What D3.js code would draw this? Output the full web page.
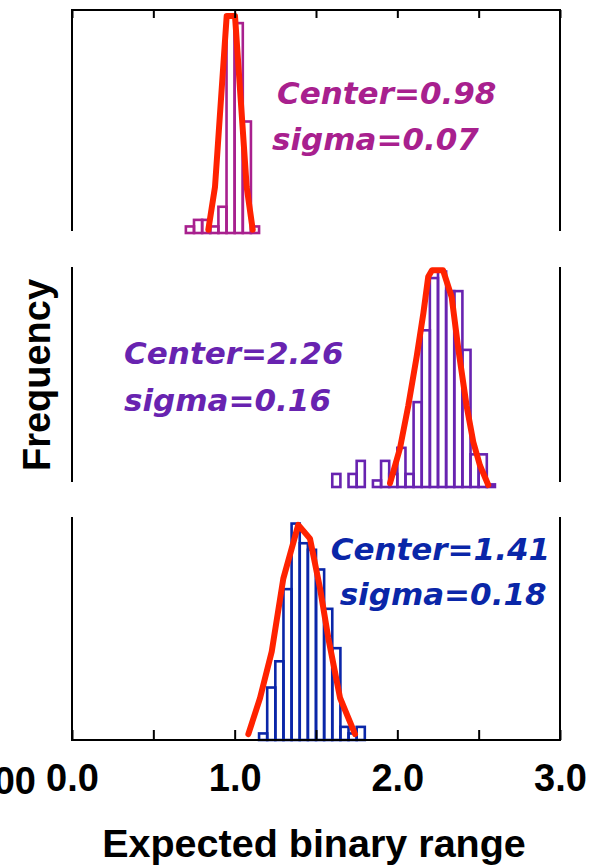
<!DOCTYPE html>
<html>
<head>
<meta charset="utf-8">
<script src="https://cdn.jsdelivr.net/npm/d3@7"></script>
<style>
  body { margin: 0; background: #fff; }
  svg { display: block; }
  .frame { stroke: #000; stroke-width: 2; fill: none; }
  .tick line { stroke: #000; stroke-width: 2; }
  .domain { display: none; }
  .label { font-family: "Liberation Sans", Arial, sans-serif; font-weight: bold; fill: #000; }
  .note { font-family: "DejaVu Sans", sans-serif; font-weight: bold; font-style: italic; font-size: 31px; }
  .bar { fill: none; stroke-width: 2.6; }
  .fit { fill: none; stroke: #ff2200; stroke-width: 6; stroke-linejoin: round; stroke-linecap: round; }
</style>
</head>
<body>
<svg width="601" height="867"></svg>
<script>
const w = 601, h = 867;

// bin left edges are start + i*0.05
const binWidth = 0.05;
const bins1Start = 0.70;
const counts1 = [1, 2, 2, 1, 4, 33, 32, 17, 1];
const bins2Start = 1.60;
const counts2 = [2, 0, 2, 4, 0, 1, 4, 2, 6, 2, 13, 24, 32, 33, 30, 30, 21, 5, 5, 0.4];
const bins3Start = 1.15;
const counts3 = [1, 8, 12, 23, 33, 30, 29, 26, 20, 14, 2, 1, 2];

// red fit curves [x, frequency]
const fit1 = [[0.838, 0.5], [0.879, 7.0], [0.951, 33.1], [1.002, 33.1], [1.074, 7.0], [1.111, 0.5]];
const fit2 = [[1.955, 0.6], [2.016, 5.9], [2.067, 12.4], [2.119, 20.0], [2.160, 26.6], [2.190, 32.2],
              [2.213, 33.2], [2.281, 33.2], [2.334, 29.1], [2.375, 21.1], [2.426, 12.4],
              [2.467, 6.9], [2.508, 3.3], [2.559, 0.3]];
const fit3 = [[1.084, 0.9], [1.156, 6.4], [1.228, 13.5], [1.299, 24.6], [1.391, 32.8], [1.463, 30.7],
              [1.525, 23.1], [1.576, 15.5], [1.648, 6.4], [1.740, 0.9]];

const centers = ["Center=0.98", "Center=2.26", "Center=1.41"];
const sigmas  = ["sigma=0.07", "sigma=0.16", "sigma=0.18"];
const colors  = ["#a8208e", "#6823b0", "#0a26a8"];
const xTicks  = [0, 0.5, 1, 1.5, 2, 2.5, 3];

const scaleX = d3.scaleLinear().domain([0, 3]).range([72, 560]);

const panels = [
    {top: 10,  bottom: 233, lineTop: 10,  lineBottom: 231, bins: bins1Start, counts: counts1, fit: fit1, noteX: 1.26, noteY: [19.7, 12.6], sigmaShift: -5},
    {top: 265, bottom: 487, lineTop: 267, lineBottom: 482, bins: bins2Start, counts: counts2, fit: fit2, noteX: 0.32, noteY: [18.8, 11.7], sigmaShift: 0},
    {top: 517, bottom: 740, lineTop: 517, lineBottom: 740, bins: bins3Start, counts: counts3, fit: fit3, noteX: 1.59, noteY: [27.5, 20.6], sigmaShift: 9}
];

const svg = d3.select("svg");

panels.forEach(function(p, k) {
    const scaleY = d3.scaleLinear().domain([0, 34]).range([p.bottom, p.top]);
    const g = svg.append("g").attr("class", "panel");

    // left / right frame lines
    g.append("line").attr("class", "frame")
        .attr("x1", scaleX(0)).attr("x2", scaleX(0))
        .attr("y1", p.lineTop).attr("y2", p.lineBottom);
    g.append("line").attr("class", "frame")
        .attr("x1", scaleX(3)).attr("x2", scaleX(3))
        .attr("y1", p.lineTop).attr("y2", p.lineBottom);

    const bars = p.counts.map((c, i) => ({x0: p.bins + i * binWidth, x1: p.bins + (i + 1) * binWidth, c: c}));

    g.selectAll("rect.bar")
        .data(bars.filter(d => d.c > 0))
        .join("rect").attr("class", "bar")
        .attr("x", d => scaleX(d.x0))
        .attr("width", d => scaleX(d.x1) - scaleX(d.x0))
        .attr("y", d => scaleY(d.c))
        .attr("height", d => scaleY(0) - scaleY(d.c))
        .style("stroke", colors[k]);

    g.append("path").attr("class", "fit")
        .attr("d", d3.line().x(d => scaleX(d[0])).y(d => scaleY(d[1]))(p.fit));

    g.append("text").attr("class", "note")
        .attr("x", scaleX(p.noteX)).attr("y", scaleY(p.noteY[0]))
        .style("fill", colors[k])
        .text(centers[k]);
    g.append("text").attr("class", "note")
        .attr("x", scaleX(p.noteX) + p.sigmaShift).attr("y", scaleY(p.noteY[1]))
        .style("fill", colors[k])
        .text(sigmas[k]);

    if (k == 0) {
        const axisTop = d3.axisTop(scaleX).tickValues(xTicks).tickSize(-8).tickFormat("");
        g.append("g").attr("class", "x-top")
            .attr("transform", `translate(${[0, p.top]})`)
            .call(axisTop);
        g.append("line").attr("class", "frame")
            .attr("x1", scaleX(0) - 1).attr("x2", scaleX(3) + 1)
            .attr("y1", p.top).attr("y2", p.top);
    }
    if (k == 2) {
        const axisX = d3.axisBottom(scaleX).tickValues(xTicks).tickSize(-10).tickPadding(24)
            .tickFormat(d => d % 1 == 0 ? d3.format(".1f")(d) : "");
        const xG = g.append("g").attr("class", "x-axis")
            .attr("transform", `translate(${[0, p.bottom]})`)
            .call(axisX);
        xG.selectAll("text").attr("class", "label").style("font-size", "38px");
        g.append("line").attr("class", "frame")
            .attr("x1", scaleX(0) - 1).attr("x2", scaleX(3) + 1)
            .attr("y1", p.bottom).attr("y2", p.bottom);
    }
});

// leftover label of the neighbouring chart, cut by the edge as in the original
svg.append("text").attr("class", "label")
    .attr("x", 36).attr("y", 794)
    .attr("text-anchor", "end")
    .style("font-size", "38px")
    .text("1.00");

svg.append("text").attr("class", "label")
    .attr("text-anchor", "middle")
    .attr("transform", `translate(${[314, 857]})`)
    .style("font-size", "39.5px")
    .text("Expected binary range");

svg.append("text").attr("class", "label")
    .attr("text-anchor", "middle")
    .attr("transform", `translate(${[50, 375]}) rotate(-90)`)
    .style("font-size", "38px")
    .text("Frequency");
</script>
</body>
</html>
